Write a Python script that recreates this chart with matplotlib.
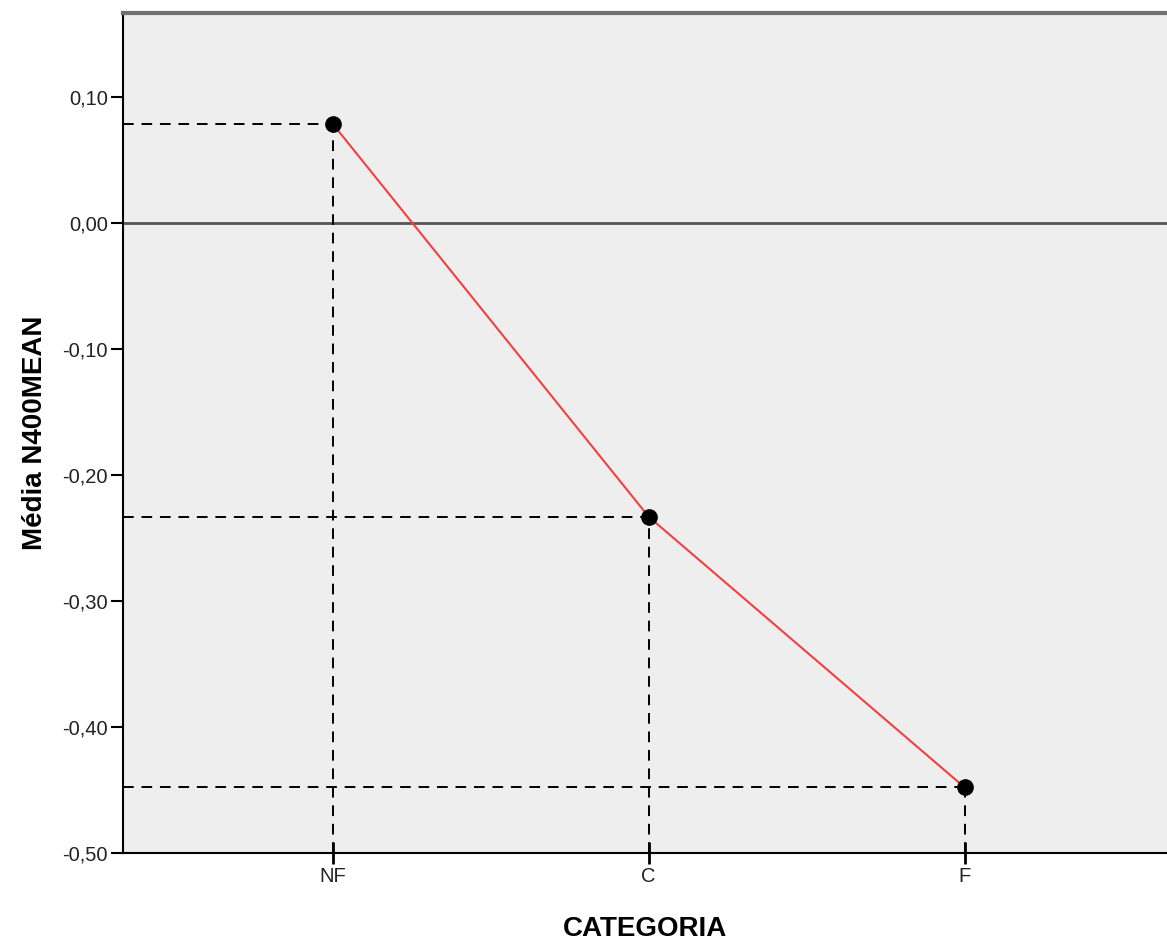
import numpy as np
import matplotlib.pyplot as plt

plt.rcParams['font.family'] = ['Liberation Sans', 'DejaVu Sans']

# dados
categorias = ['NF', 'C', 'F']
medias = [0.079, -0.233, -0.448]
yticks = [0.10, 0.00, -0.10, -0.20, -0.30, -0.40, -0.50]

x = np.arange(len(categorias))
xmin, xmax = -0.663, 2.64
ymin, ymax = -0.50, 0.1667

fig = plt.figure(figsize=(11.67, 9.42), dpi=100)
ax = fig.add_axes([0.1054, 0.0945, 0.8946, 0.8915])
ax.set_facecolor('#eeeeee')

# linha de referência em zero
ax.axhline(0, color='#555555', linewidth=2, zorder=1)

# linhas tracejadas até os eixos
for xi, yi in zip(x, medias):
    ax.plot([xmin, xi], [yi, yi], color='black', linestyle=(0, (5.5, 4)), linewidth=1.4, zorder=2)
    ax.plot([xi, xi], [ymin, yi], color='black', linestyle=(0, (5.5, 4)), linewidth=1.4, zorder=2)

ax.plot(x, medias, color='#f04040', linewidth=1.5, zorder=3)
ax.plot(x, medias, 'o', color='black', markersize=11, zorder=4)

ax.set_xlim(xmin, xmax)
ax.set_ylim(ymin, ymax)
ax.set_xticks(x)
ax.set_xticklabels(categorias)
ax.set_yticks(yticks)
ax.set_yticklabels([f'{v:.2f}'.replace('.', ',') for v in yticks])

ax.tick_params(axis='y', direction='out', length=9, width=1.5, labelsize=14.5,
               labelcolor='#222222', pad=2)
ax.tick_params(axis='x', direction='inout', length=16, width=2, labelsize=14.5,
               labelcolor='#222222', pad=2)

for s in ['left', 'bottom']:
    ax.spines[s].set_linewidth(1.5)
    ax.spines[s].set_color('black')
ax.spines['top'].set_linewidth(3)
ax.spines['top'].set_color('#707070')
ax.spines['right'].set_visible(False)

ax.set_xlabel('CATEGORIA', fontsize=20, fontweight='bold', labelpad=22)
ax.set_ylabel('Média N400MEAN', fontsize=20, fontweight='bold', labelpad=10)

fig.savefig('out.png', dpi=100)
